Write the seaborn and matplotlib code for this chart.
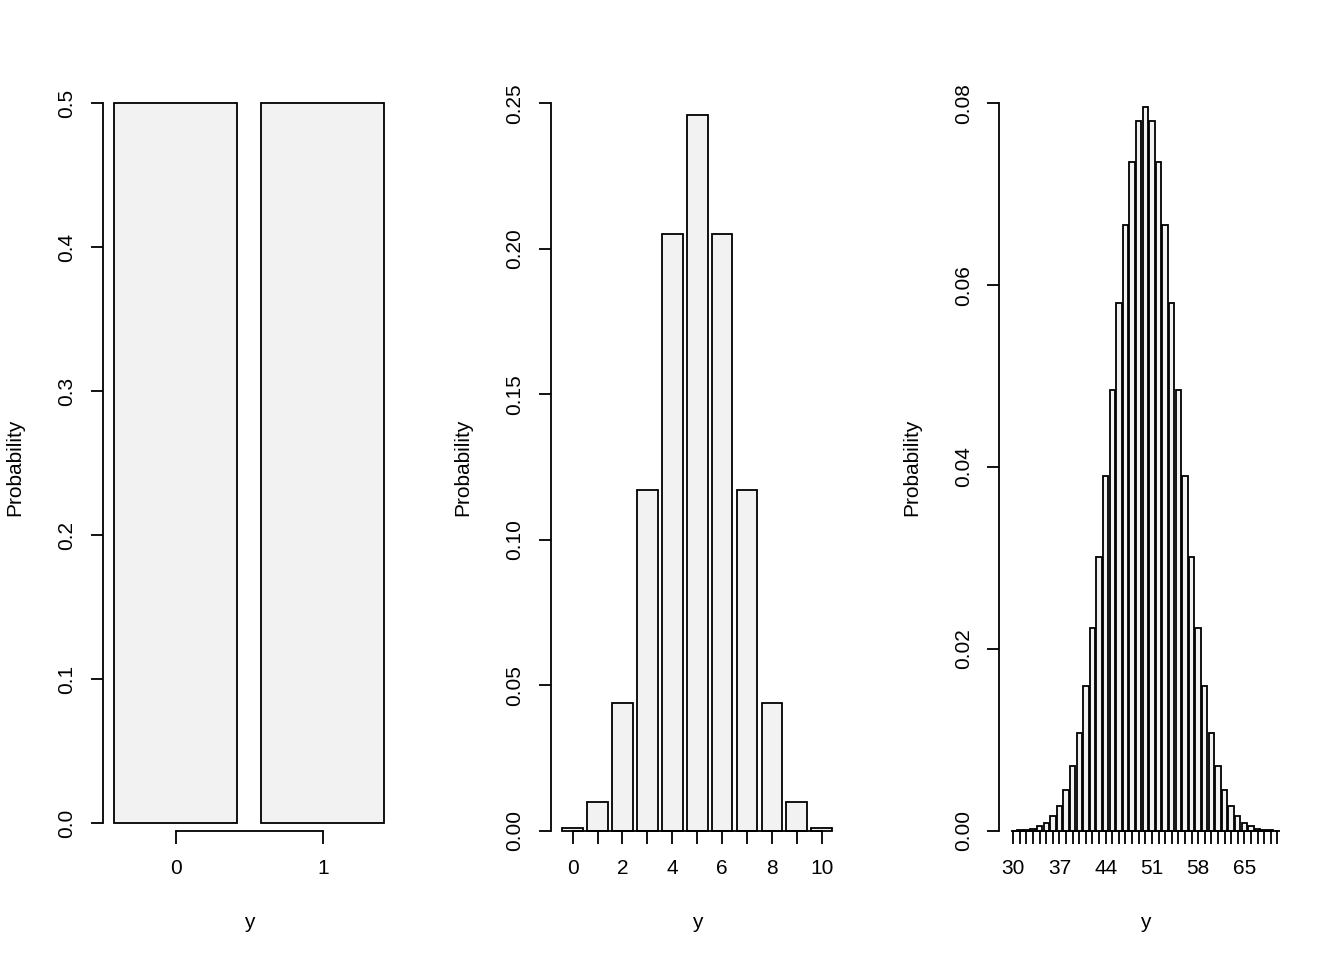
import matplotlib
matplotlib.use("Agg")
import matplotlib.pyplot as plt
import pandas as pd
import seaborn as sns

# ── Data ──────────────────────────────────────────────────────────────────────
bern_y = [0, 1]
bern_p = [0.5, 0.5]

binom10_y = list(range(0, 11))
binom10_p = [0.0010, 0.0098, 0.0439, 0.1172, 0.2051, 0.2461,
             0.2051, 0.1172, 0.0439, 0.0098, 0.0010]

binom100_y = list(range(30, 71))
binom100_p = [0.00002, 0.00005, 0.0001, 0.0002, 0.0005, 0.0009, 0.0016,
              0.0027, 0.0045, 0.0071, 0.0108, 0.0159, 0.0223, 0.0301,
              0.0390, 0.0485, 0.0580, 0.0666, 0.0735, 0.0780, 0.0796,
              0.0780, 0.0735, 0.0666, 0.0580, 0.0485, 0.0390, 0.0301,
              0.0223, 0.0159, 0.0108, 0.0071, 0.0045, 0.0027, 0.0016,
              0.0009, 0.0005, 0.0002, 0.0001, 0.00005, 0.00002]

# ── Style ─────────────────────────────────────────────────────────────────────
sns.set_theme(style="ticks")
plt.rcParams["font.family"] = ["Liberation Sans", "DejaVu Sans"]
FS = 15
FILL = "#F2F2F2"
LW = 1.3

W, H = 1344, 960
fig = plt.figure(figsize=(W / 100, H / 100), dpi=100)
fig.patch.set_facecolor("white")


def px_axes(left, top, right, bottom):
    return fig.add_axes([left / W, 1 - bottom / H, (right - left) / W, (bottom - top) / H])


def r_style(ax, xticks, xlabels, yticks, yfmt, xbounds, ybounds):
    for s in ["top", "right"]:
        ax.spines[s].set_visible(False)
    ax.spines["left"].set_bounds(*ybounds)
    ax.spines["bottom"].set_bounds(*xbounds)
    for s in ["left", "bottom"]:
        ax.spines[s].set_linewidth(LW)
        ax.spines[s].set_color("black")
    ax.set_xticks(xticks)
    ax.set_xticklabels(xlabels)
    ax.set_yticks(yticks)
    ax.set_yticklabels([yfmt % v for v in yticks])
    ax.tick_params(axis="both", direction="out", length=9, width=LW,
                   color="black", labelsize=FS, labelcolor="black")
    ax.tick_params(axis="x", pad=11.5)
    ax.tick_params(axis="y", pad=10, labelrotation=90)
    for lab in ax.get_yticklabels():
        lab.set_va("center")
    ax.set_xlabel("")
    ax.set_ylabel("")
    ax.set_facecolor("white")
    for p in ax.patches:
        p.set_clip_on(False)


def bars(ax, xs, ps):
    df = pd.DataFrame({"y": xs, "p": ps})
    sns.barplot(data=df, x="y", y="p", native_scale=True, width=1 / 1.2,
                color=FILL, saturation=1, edgecolor="black", linewidth=LW,
                errorbar=None, ax=ax)


TOP, BOT = 103.3, 830.7

# ── Panel 1: Bernoulli ────────────────────────────────────────────────────────
ax1 = px_axes(103, TOP, 395.4, BOT)
bars(ax1, bern_y, bern_p)
ax1.set_xlim(-0.4946, 1.4946)
ax1.set_ylim(-0.00535, 0.5)
r_style(ax1, bern_y, [str(v) for v in bern_y],
        [0.0, 0.1, 0.2, 0.3, 0.4, 0.5], "%.1f", (0, 1), (0, 0.5))

# ── Panel 2: Binomial(10) ─────────────────────────────────────────────────────
ax2 = px_axes(551, TOP, 843.4, BOT)
bars(ax2, binom10_y, binom10_p)
ax2.set_xlim(-0.87, 10.87)
ax2.set_ylim(0, 0.25)
r_style(ax2, binom10_y, [str(v) if v % 2 == 0 else "" for v in binom10_y],
        [0.0, 0.05, 0.10, 0.15, 0.20, 0.25], "%.2f", (0, 10), (0, 0.25))

# ── Panel 3: Binomial(100) ────────────────────────────────────────────────────
ax3 = px_axes(999.3, TOP, 1291.3, BOT)
bars(ax3, binom100_y, binom100_p)
ax3.set_xlim(27.88, 72.12)
ax3.set_ylim(0, 0.08)
r_style(ax3, binom100_y, [str(v) if (v - 30) % 7 == 0 else "" for v in binom100_y],
        [0.0, 0.02, 0.04, 0.06, 0.08], "%.2f", (30, 70), (0, 0.08))

# ── Axis titles placed like base R ────────────────────────────────────────────
for ax, left, right in [(ax1, 103, 395.4), (ax2, 551, 843.4), (ax3, 999.3, 1291.3)]:
    fig.text((left + right) / 2 / W, 1 - 922 / H, "y", ha="center", va="center",
             fontsize=FS, color="black")
    fig.text((left - 88) / W, 1 - (TOP + BOT) / 2 / H, "Probability", ha="center",
             va="center", rotation=90, fontsize=FS, color="black")

fig.savefig("out.png", dpi=100, facecolor="white")
